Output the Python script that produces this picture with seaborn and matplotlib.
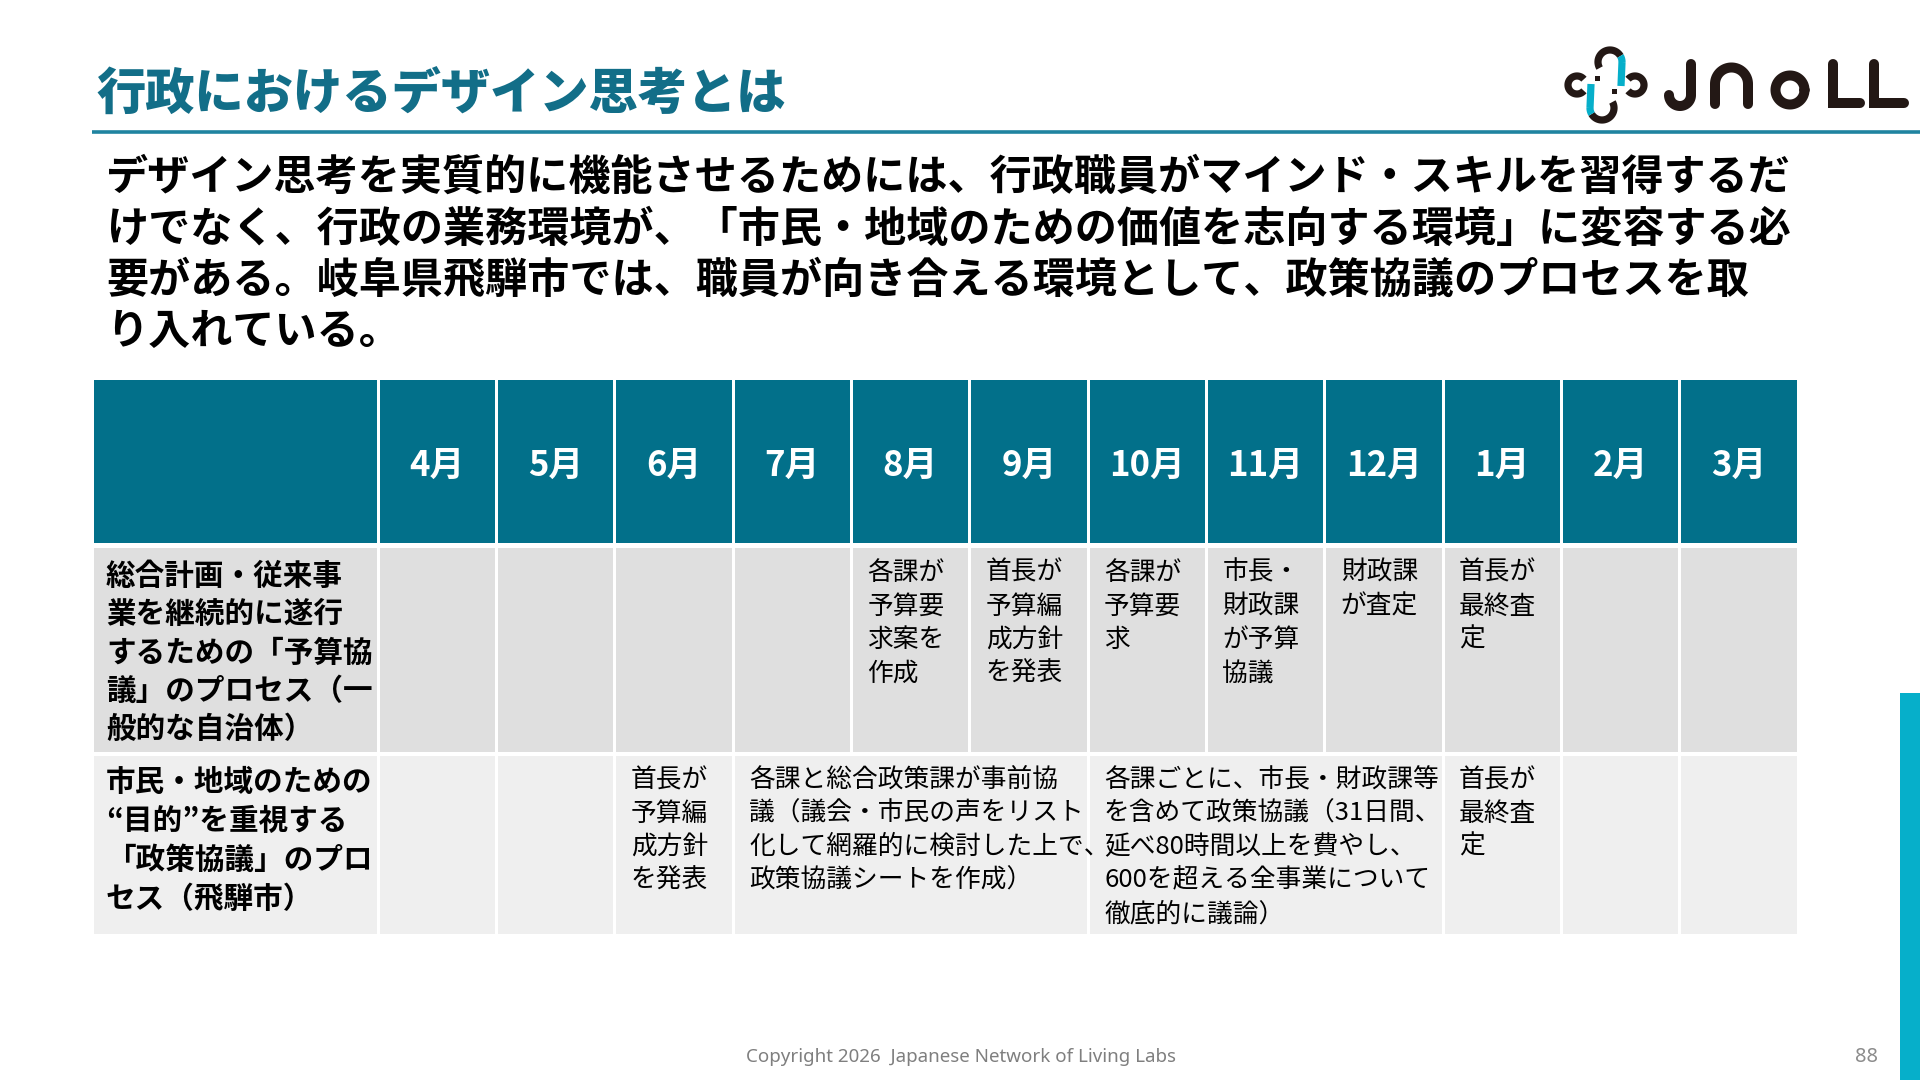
import numpy as np
import matplotlib
matplotlib.use("Agg")
import matplotlib.pyplot as plt
from matplotlib.patches import Rectangle
import seaborn as sns

# ---------------- data ----------------
title_text = "行政におけるデザイン思考とは"
body_lines = [
    "デザイン思考を実質的に機能させるためには、行政職員がマインド・スキルを習得するだ",
    "けでなく、行政の業務環境が、「市民・地域のための価値を志向する環境」に変容する必",
    "要がある。岐阜県飛騨市では、職員が向き合える環境として、政策協議のプロセスを取",
    "り入れている。",
]
months = ["4月", "5月", "6月", "7月", "8月", "9月", "10月", "11月", "12月", "1月", "2月", "3月"]
row_labels = [
    ["総合計画・従来事", "業を継続的に遂行", "するための「予算協", "議」のプロセス（一", "般的な自治体）"],
    ["市民・地域のための", "“目的”を重視する", "「政策協議」のプロ", "セス（飛騨市）"],
]
budget_cells = [
    "", "", "", "",
    "各課が\n予算要\n求案を\n作成",
    "首長が\n予算編\n成方針\nを発表",
    "各課が\n予算要\n求",
    "市長・\n財政課\nが予算\n協議",
    "財政課\nが査定",
    "首長が\n最終査\n定",
    "", "",
]
policy_start = [0, 1, 2, 3, 6, 9, 10, 11]
policy_span = [1, 1, 1, 3, 3, 1, 1, 1]
policy_text = [
    "", "",
    "首長が\n予算編\n成方針\nを発表",
    "各課と総合政策課が事前協\n議（議会・市民の声をリスト\n化して網羅的に検討した上で、\n政策協議シートを作成）",
    "各課ごとに、市長・財政課等\nを含めて政策協議（31日間、\n延べ80時間以上を費やし、\n600を超える全事業について\n徹底的に議論）",
    "首長が\n最終査\n定",
    "", "",
]
footer_text = "Copyright 2026  Japanese Network of Living Labs"
page_number = "88"

# ---------------- style ----------------
sns.set_theme(style="white")
plt.rcParams["font.family"] = ["Noto Sans CJK JP", "DejaVu Sans"]

TEAL_TITLE = "#126E88"
TEAL_LINE = "#1F84A0"
HEADER = "#02708A"
ROW1 = "#DFDFDF"
ROW2 = "#EFEFEF"
CYAN = "#06AFCA"
DARK = "#231815"

fig = plt.figure(figsize=(19.2, 10.8), dpi=100)
ax = fig.add_axes([0, 0, 1, 1])
ax.set_xlim(0, 1920)
ax.set_ylim(1080, 0)
ax.axis("off")

# title + rule
ax.text(96, 95, title_text, fontsize=35.5, fontweight="black", color=TEAL_TITLE,
        va="center", ha="left")
ax.plot([92, 1920], [132, 132], color=TEAL_LINE, lw=2.6, solid_capstyle="butt")

# body
for i, line in enumerate(body_lines):
    ax.text(106, 178 + i * 51.3, line, fontsize=30.3, fontweight="bold", color="black",
            va="center", ha="left")

# table geometry
left, right = 92, 1798
label_w = 286
col_w = (right - left - label_w) / len(months)
edges = [left, left + label_w] + [left + label_w + (i + 1) * col_w for i in range(len(months))]
hdr_top, hdr_bot = 380, 543
r1_top, r1_bot = 548, 752
r2_top, r2_bot = 756, 934
g = 1.5


def cell(x0, x1, y0, y1, color):
    ax.add_patch(Rectangle((x0 + g, y0), x1 - x0 - 2 * g, y1 - y0, facecolor=color,
                           edgecolor="none"))


def lines(x, y0, dy, text, **kw):
    for k, t in enumerate(text.split("\n")):
        ax.text(x, y0 + k * dy, t, va="center", ha="left", **kw)


# header
cell(edges[0], edges[1], hdr_top, hdr_bot, HEADER)
for i, m in enumerate(months):
    x0, x1 = edges[i + 1], edges[i + 2]
    cell(x0, x1, hdr_top, hdr_bot, HEADER)
    ax.text((x0 + x1) / 2, 465, m, fontsize=25, fontweight="bold", color="white",
            ha="center", va="center")

# row 1 (budget)
cell(edges[0], edges[1], r1_top, r1_bot, ROW1)
lines(edges[0] + 14, 576, 38.3, "\n".join(row_labels[0]), fontsize=21.3,
      fontweight="bold", color="black")
for i, t in enumerate(budget_cells):
    x0, x1 = edges[i + 1], edges[i + 2]
    cell(x0, x1, r1_top, r1_bot, ROW1)
    if t:
        lines(x0 + 16, 573, 33.5, t, fontsize=18.5, color="black")

# row 2 (policy)
cell(edges[0], edges[1], r2_top, r2_bot, ROW2)
lines(edges[0] + 14, 782, 39, "\n".join(row_labels[1]), fontsize=21.3,
      fontweight="bold", color="black")
for s, n, t in zip(policy_start, policy_span, policy_text):
    x0, x1 = edges[s + 1], edges[s + 1 + n]
    cell(x0, x1, r2_top, r2_bot, ROW2)
    if t:
        lines(x0 + 16, 780, 33.5, t, fontsize=18.5, color="black")

# footer
ax.text(961, 1057, footer_text, fontsize=13.5, color="#7F7F7F", ha="center",
        va="center", family=["Noto Sans", "DejaVu Sans"])
ax.text(1866, 1057, page_number, fontsize=14.5, color="#8C8C8C", ha="center",
        va="center", family=["Noto Sans", "DejaVu Sans"])

# right accent bar
ax.add_patch(Rectangle((1900, 693), 20, 387, facecolor=CYAN, edgecolor="none"))


# logo
def arc(cx, cy, r, t0, t1, color, lw=5.2):
    t = np.radians(np.linspace(t0, t1, 60))
    ax.plot(cx + r * np.cos(t), cy + r * np.sin(t), color=color, lw=lw,
            solid_capstyle="butt")


lwl = 7.2
# icon
arc(1610, 62, 12, 150, 330, DARK)
arc(1610, 62, 12, 330, 360, CYAN)
ax.plot([1622, 1621], [62, 86], color=CYAN, lw=5.2, solid_capstyle="butt")
arc(1602, 108, 12, -30, 150, DARK)
arc(1602, 108, 12, 150, 180, CYAN)
ax.plot([1590, 1591], [108, 84], color=CYAN, lw=5.2, solid_capstyle="butt")
arc(1577, 85, 9, 40, 320, DARK)
arc(1635, 85, 9, -140, 140, DARK)
ax.add_patch(Rectangle((1595, 76), 5, 5, facecolor=DARK, edgecolor="none"))
ax.add_patch(Rectangle((1612, 89), 5, 5, facecolor=DARK, edgecolor="none"))
# letters
t = np.radians(np.linspace(0, 180, 40))
jx = np.concatenate([[1691, 1691], 1680 + 11 * np.cos(t)])
jy = np.concatenate([[64, 95], 95 + 11 * np.sin(t)])
ax.plot(jx, jy, color=DARK, lw=lwl, solid_capstyle="round", solid_joinstyle="round")
t = np.radians(np.linspace(180, 360, 40))
nx = np.concatenate([[1715], 1731.5 + 16.5 * np.cos(t), [1748]])
ny = np.concatenate([[104], 84 + 16.5 * np.sin(t), [104]])
ax.plot(nx, ny, color=DARK, lw=lwl, solid_capstyle="round")
t = np.radians(np.linspace(0, 360, 80))
ax.plot(1790 + 14.5 * np.cos(t), 90 + 14.5 * np.sin(t), color=DARK, lw=lwl)
ax.plot([1833, 1833, 1860], [64, 103, 103], color=DARK, lw=lwl,
        solid_capstyle="round", solid_joinstyle="miter")
ax.plot([1874, 1874, 1904], [64, 103, 103], color=DARK, lw=lwl,
        solid_capstyle="round", solid_joinstyle="miter")

fig.savefig("out.png", dpi=100, facecolor="white")
